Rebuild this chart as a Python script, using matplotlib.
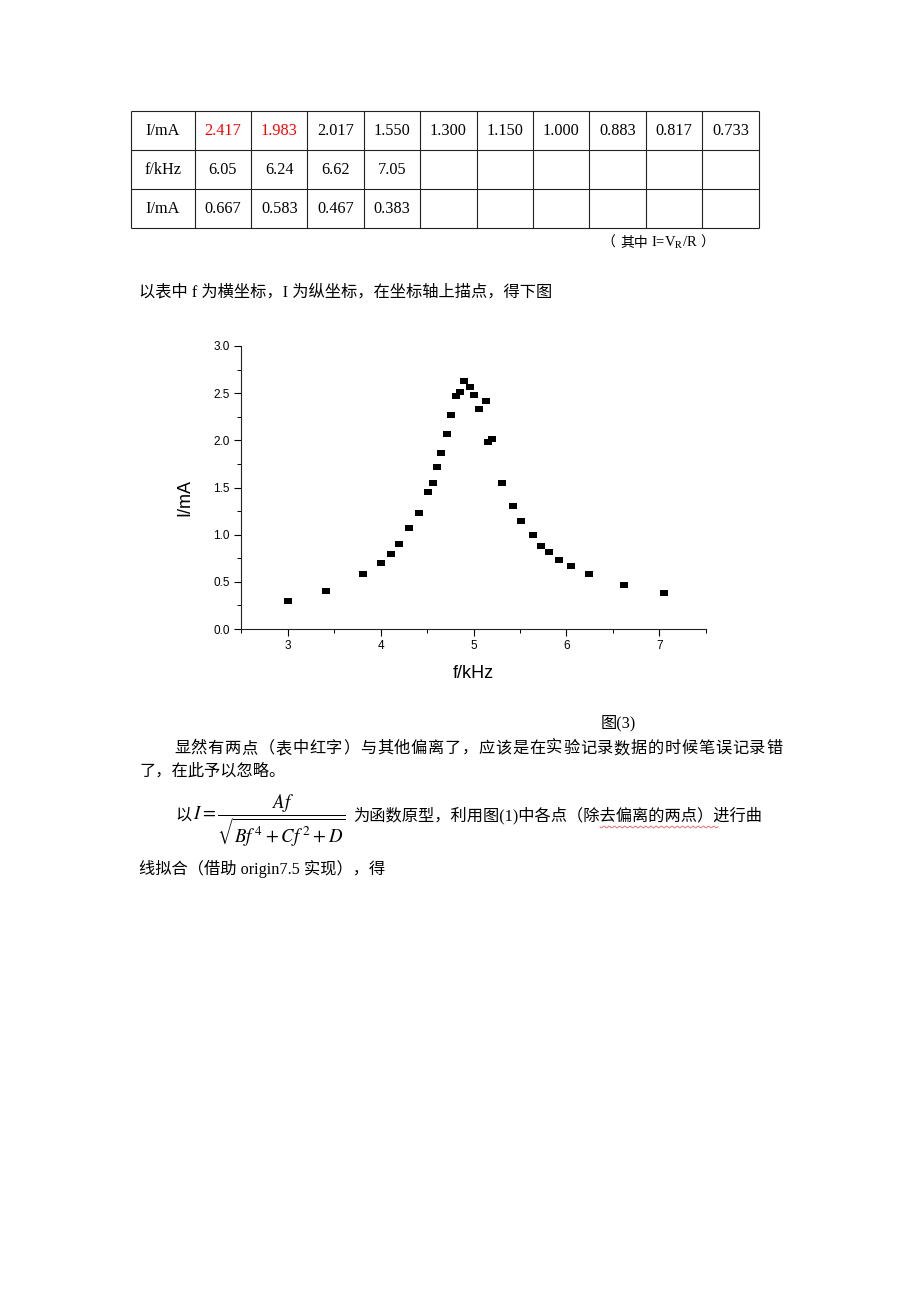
import numpy as np
import matplotlib
matplotlib.use('Agg')
import matplotlib.pyplot as plt
from matplotlib.ticker import MultipleLocator

plt.rcParams['font.family'] = ['Liberation Serif', 'Noto Sans CJK SC']
plt.rcParams['mathtext.fontset'] = 'stix'

# table (last part of the measurement table)
row_labels = ['I/mA', 'f/kHz', 'I/mA']
row_i1 = ['2.417', '1.983', '2.017', '1.550', '1.300', '1.150', '1.000', '0.883', '0.817', '0.733']
row_f2 = ['6.05', '6.24', '6.62', '7.05', '', '', '', '', '', '']
row_i2 = ['0.667', '0.583', '0.467', '0.383', '', '', '', '', '', '']
red_cells = [0, 1]  # wrongly recorded values in row_i1

# scatter data
f_khz = [3.00, 3.41, 3.81, 4.00, 4.11, 4.20, 4.31, 4.41, 4.51, 4.56,
         4.61, 4.65, 4.71, 4.76, 4.81, 4.85, 4.90, 4.96, 5.01, 5.06,
         5.13, 5.16, 5.20, 5.31, 5.43, 5.51, 5.64, 5.73, 5.81, 5.92,
         6.05, 6.24, 6.62, 7.05]
i_ma = [0.300, 0.400, 0.583, 0.700, 0.800, 0.900, 1.067, 1.233, 1.450, 1.550,
        1.717, 1.867, 2.067, 2.267, 2.467, 2.517, 2.633, 2.567, 2.483, 2.333,
        2.417, 1.983, 2.017, 1.550, 1.300, 1.150, 1.000, 0.883, 0.817, 0.733,
        0.667, 0.583, 0.467, 0.383]

xticks = [3, 4, 5, 6, 7]
yticks = [0.0, 0.5, 1.0, 1.5, 2.0, 2.5, 3.0]

W, H = 920, 1302
fig = plt.figure(figsize=(W / 100, H / 100), dpi=100)
fig.patch.set_facecolor('white')

# page layer in pixel coordinates
doc = fig.add_axes([0, 0, 1, 1])
doc.set_xlim(0, W)
doc.set_ylim(H, 0)
doc.axis('off')

fs = 11.7

# table grid
left, first_w, col_w = 130.7, 64.0, 56.4
top, row_h = 111.0, 39.1
col_edges = [left, left + first_w] + [left + first_w + col_w * (k + 1) for k in range(10)]
row_edges = [top + row_h * k for k in range(4)]
doc.hlines(row_edges, col_edges[0], col_edges[-1], color='#222222', lw=0.8)
doc.vlines(col_edges, row_edges[0], row_edges[-1], color='#222222', lw=0.8)

for r, (label, cells) in enumerate(zip(row_labels, [row_i1, row_f2, row_i2])):
    yc = top + row_h * (r + 0.5)
    doc.text((col_edges[0] + col_edges[1]) / 2, yc, label, ha='center', va='center', fontsize=fs)
    for c, val in enumerate(cells):
        color = 'red' if (r == 0 and c in red_cells) else 'black'
        doc.text((col_edges[c + 1] + col_edges[c + 2]) / 2, yc, val,
                 ha='center', va='center', fontsize=fs, color=color)

# note under the table: CJK parts and the math part as separate texts
doc.text(601, 247, '（', ha='left', va='baseline', fontsize=10)
doc.text(620, 247, '其中', ha='left', va='baseline', fontsize=10)
doc.text(651, 247, r'I=V$_\mathrm{R}$/R', ha='left', va='baseline', fontsize=10.5,
         family='Liberation Serif')
doc.text(700, 247, '）', ha='left', va='baseline', fontsize=10)

doc.text(139, 292, '以表中 f 为横坐标，I 为纵坐标，在坐标轴上描点，得下图',
         ha='left', va='center', fontsize=fs)

doc.text(618, 723, '图(3)', ha='center', va='center', fontsize=fs)

# justified first line of the paragraph
line1 = '显然有两点（表中红字）与其他偏离了，应该是在实验记录数据的时候笔误记录错'
step = (783 - 174) / len(line1)
for k, ch in enumerate(line1):
    doc.text(174 + k * step, 749, ch, ha='left', va='center', fontsize=fs)
doc.text(139, 772, '了，在此予以忽略。', ha='left', va='center', fontsize=fs)

# formula line
doc.text(175, 816, '以', ha='left', va='center', fontsize=fs)
doc.text(193, 821, r'$I=\dfrac{Af}{\sqrt{Bf^{\,4}+Cf^{\,2}+D}}$', ha='left', va='center',
         fontsize=fs + 1.8, family='Liberation Serif')
doc.text(353, 816, '为函数原型，利用图(1)中各点（除去偏离的两点）进行曲',
         ha='left', va='center', fontsize=fs)
wx = np.linspace(600, 718, 120)
doc.plot(wx, 827 + 1.0 * np.sin((wx - 600) * 1.2), color='#e06060', lw=0.6)

doc.text(139, 869, '线拟合（借助 origin7.5 实现），得', ha='left', va='center', fontsize=fs)

# the chart
ax = fig.add_axes([241 / W, 1 - 629 / H, 465 / W, 283 / H])
box = [(-1, -0.72), (1, -0.72), (1, 0.72), (-1, 0.72)]  # slightly wide square marker
ax.scatter(f_khz, i_ma, marker=box, s=38, color='black', linewidths=0, zorder=3)
ax.set_xlim(2.5, 7.5)
ax.set_ylim(0, 3)
ax.set_xticks(xticks)
ax.set_yticks(yticks)
ax.xaxis.set_minor_locator(MultipleLocator(0.5))
ax.yaxis.set_minor_locator(MultipleLocator(0.25))
ax.set_xticklabels([str(t) for t in xticks], family='Liberation Sans', fontsize=8.5)
ax.set_yticklabels([f'{t:.1f}' for t in yticks], family='Liberation Sans', fontsize=8.5)
for side in ['top', 'right']:
    ax.spines[side].set_visible(False)
for side in ['left', 'bottom']:
    ax.spines[side].set_linewidth(0.8)
    ax.spines[side].set_color('#222222')
ax.tick_params(which='major', direction='out', length=5, width=0.8, pad=3)
ax.tick_params(which='minor', direction='out', length=3, width=0.7)
ax.set_xlabel('f/kHz', family='Liberation Sans', fontsize=13)
ax.set_ylabel('I/mA', family='Liberation Sans', fontsize=13)
ax.xaxis.set_label_coords(0.5, -0.128)
ax.yaxis.set_label_coords(-0.103, 0.466)

fig.savefig('out.png', dpi=100, facecolor='white')
